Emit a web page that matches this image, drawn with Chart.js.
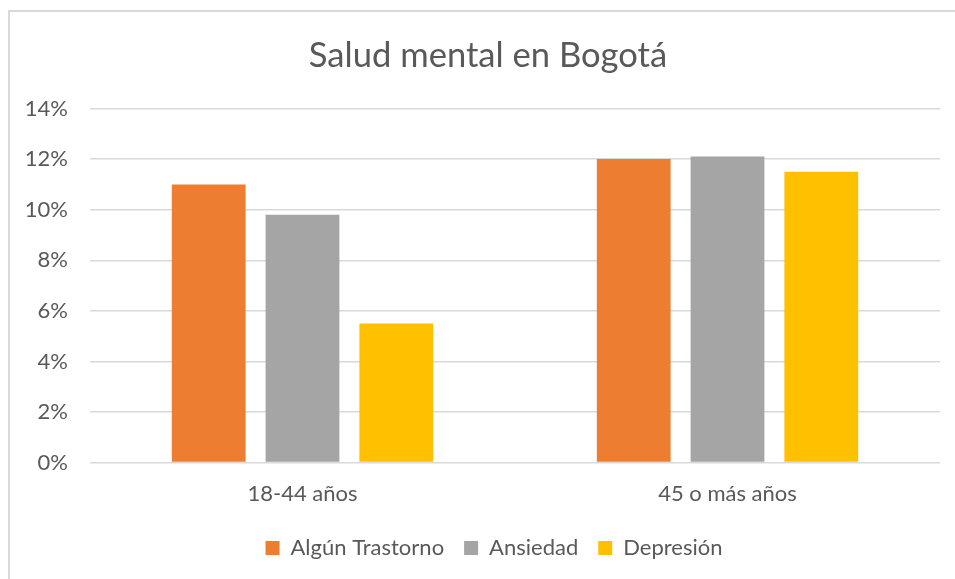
<!DOCTYPE html>
<html>
<head>
<meta charset="utf-8">
<script src="https://cdn.jsdelivr.net/npm/chart.js@4/dist/chart.umd.min.js"></script>
<style>
  body { margin: 0; background: #fff; }
  .frame { position: absolute; left: 8px; top: 10px; width: 960px; height: 580px; border: 2px solid #D9D9D9; }
  .chart-container { position: absolute; left: 0; top: 0; width: 955px; height: 579px; }
</style>
</head>
<body>
<div class="frame"></div>
<div class="chart-container"><canvas id="saludChart"></canvas></div>
<script>
const categories = ['18-44 años', '45 o más años'];
const seriesNames = ['Algún Trastorno', 'Ansiedad', 'Depresión'];
const trastorno = [11.0, 12.0];
const ansiedad = [9.8, 12.1];
const depresion = [5.5, 11.5];
const seriesColors = ['#ED7D31', '#A5A5A5', '#FFC000'];

const textColor = '#595959';
const fontFamily = 'Lato, "Open Sans", sans-serif';

// title and legend are centred on the whole frame in the original, not the canvas
const shiftTextBlocks = {
    id: 'shiftTextBlocks',
    afterLayout(chart) {
        chart.titleBlock.left += 18;
        chart.titleBlock.right += 18;
        chart.legend.left += 24;
        chart.legend.right += 24;
    }
};

const ctx = document.getElementById('saludChart').getContext('2d');
const saludChart = new Chart(ctx, {
    type: 'bar',
    data: {
        labels: categories,
        datasets: [trastorno, ansiedad, depresion].map((values, i) => ({
            label: seriesNames[i],
            data: values,
            backgroundColor: seriesColors[i],
            borderWidth: 0,
            categoryPercentage: 0.662,
            barPercentage: 0.787
        }))
    },
    plugins: [shiftTextBlocks],
    options: {
        responsive: true,
        maintainAspectRatio: false,
        animation: false,
        layout: {
            padding: { left: 0, right: 15, top: 35, bottom: 10 }
        },
        scales: {
            x: {
                grid: { display: false },
                border: { display: false },
                ticks: { color: textColor, font: { family: fontFamily, size: 22 }, padding: 10 }
            },
            y: {
                min: 0,
                max: 14,
                grid: { color: '#D9D9D9', lineWidth: 1.5, drawTicks: false },
                border: { display: false },
                ticks: {
                    stepSize: 2,
                    color: textColor,
                    font: { family: fontFamily, size: 22 },
                    padding: 22,
                    callback: value => value + '%'
                },
                afterFit: scale => { scale.width = 90; }
            }
        },
        plugins: {
            title: {
                display: true,
                text: 'Salud mental en Bogotá',
                color: textColor,
                font: { family: fontFamily, size: 34.6, weight: 'normal' },
                padding: { top: 0, bottom: 32 }
            },
            legend: {
                position: 'bottom',
                labels: {
                    color: textColor,
                    font: { family: fontFamily, size: 22 },
                    boxWidth: 14,
                    boxHeight: 14,
                    padding: 20
                }
            },
            tooltip: { enabled: false }
        }
    }
});
</script>
</body>
</html>
